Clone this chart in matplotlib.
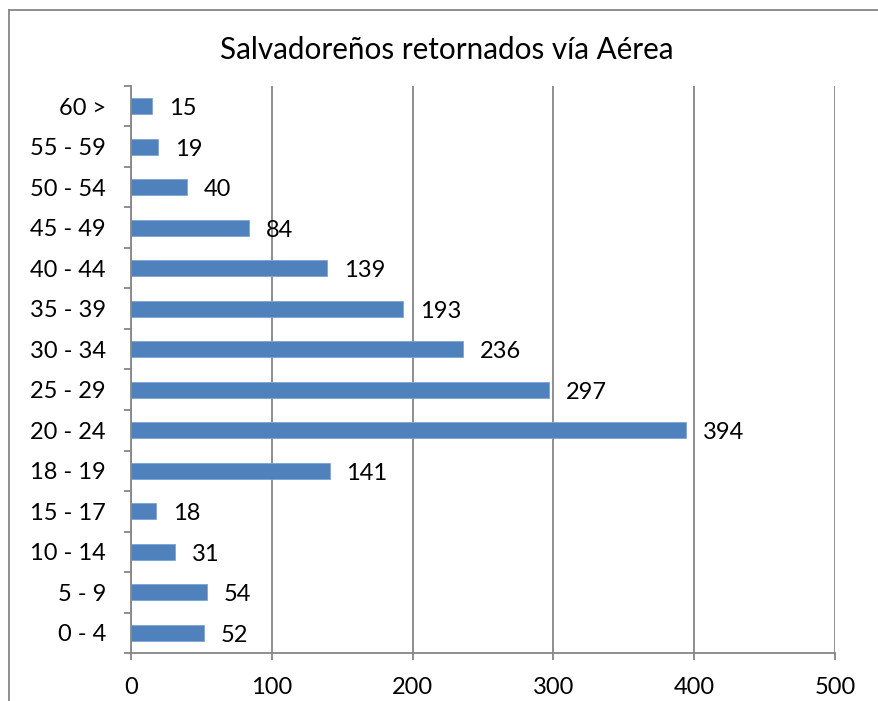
import matplotlib
matplotlib.use("Agg")
import matplotlib.pyplot as plt
from matplotlib.lines import Line2D
import numpy as np

categories = ["0 - 4", "5 - 9", "10 - 14", "15 - 17", "18 - 19", "20 - 24", "25 - 29",
              "30 - 34", "35 - 39", "40 - 44", "45 - 49", "50 - 54", "55 - 59", "60 >"]
values = [52, 54, 31, 18, 141, 394, 297, 236, 193, 139, 84, 40, 19, 15]
x_ticks = [0, 100, 200, 300, 400, 500]
title = "Salvadoreños retornados vía Aérea"

plt.rcParams['font.family'] = ['Lato', 'DejaVu Sans']
W, H = 879, 701
fig = plt.figure(figsize=(W / 100, H / 100), dpi=100)
gray = "#868686"

# figure border (left and top visible)
fig.add_artist(Line2D([9 / W, 9 / W], [0, 1 - 10 / H], transform=fig.transFigure, color=gray, lw=1.3))
fig.add_artist(Line2D([9 / W, 1], [1 - 10 / H, 1 - 10 / H], transform=fig.transFigure, color=gray, lw=1.3))

ax = fig.add_axes([131 / W, 1 - 653 / H, (835 - 131) / W, (653 - 86) / H])
y = np.arange(len(categories))
ax.barh(y, values, height=0.4, color="#4F81BD", edgecolor="#7FA3D3", linewidth=0.6, zorder=3)
for yi, v in zip(y, values):
    ax.text(v + 12, yi - 0.06, str(v), va="center", ha="left", fontsize=17, color="black", zorder=4)

ax.set_xlim(0, 500)
ax.set_ylim(-0.5, len(categories) - 0.5)
ax.set_xticks(x_ticks)
ax.set_xticklabels([str(t) for t in x_ticks], fontsize=17)
ax.set_yticks(y)
ax.set_yticklabels(categories, fontsize=17)
ax.set_yticks(np.arange(len(categories) + 1) - 0.5, minor=True)
ax.tick_params(axis='y', which='major', length=0, pad=18)
ax.tick_params(axis='y', which='minor', length=5, width=1.3, color=gray)
ax.tick_params(axis='x', which='major', length=5, width=1.3, color=gray, pad=12)
ax.grid(axis='x', color=gray, linewidth=1.3, zorder=1)
for s in ["top", "right"]:
    ax.spines[s].set_visible(False)
for s in ["left", "bottom"]:
    ax.spines[s].set_color(gray)
    ax.spines[s].set_linewidth(1.3)
    ax.spines[s].set_zorder(5)

fig.text(447 / W, 1 - 50 / H, title, ha="center", va="center", fontsize=21.3)

fig.savefig("out.png", dpi=100)
